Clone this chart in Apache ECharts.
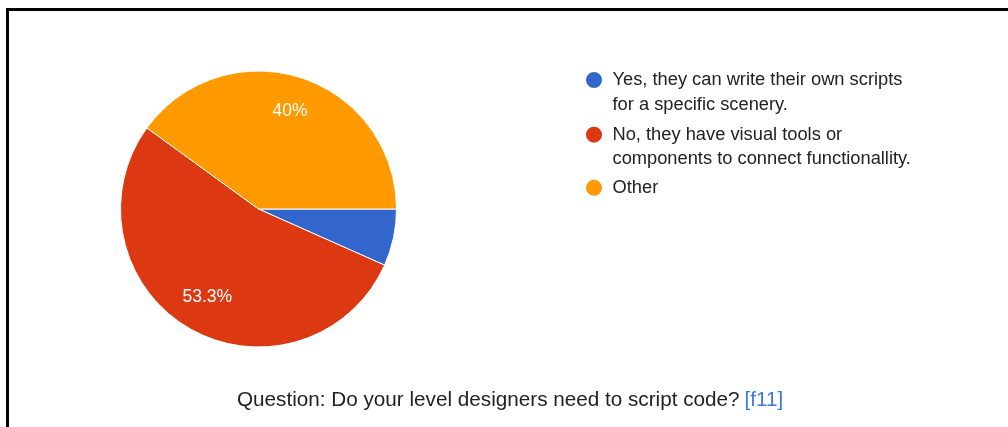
<!DOCTYPE html>
<html>
<head>
<meta charset="utf-8">
<script src="https://cdn.jsdelivr.net/npm/echarts@6/dist/echarts.min.js"></script>
<style>
html,body{margin:0;padding:0;background:#fff;}
#wrap{position:relative;width:1008px;height:427px;overflow:hidden;}
#chart{position:absolute;left:0;top:0;width:1008px;height:427px;}
#frame{position:absolute;left:6px;top:8px;width:1010px;height:430px;border-top:3px solid #000;border-left:3px solid #000;pointer-events:none;}
</style>
</head>
<body>
<div id="wrap"><div id="chart"></div><div id="frame"></div></div>
<script>
const categories = [
  "Yes, they can write their own scripts\nfor a specific scenery.",
  "No, they have visual tools or\ncomponents to connect functionallity.",
  "Other"
];
const counts = [1, 8, 6];
const colors = ["#3366cc", "#dc3912", "#ff9900"];
const questionText = "Question: Do your level designers need to script code?";
const questionTag = "[f11]";

const data = categories.map((c, i) => ({ name: c, value: counts[i], itemStyle: { color: colors[i] } }));
const total = counts.reduce((a, b) => a + b, 0);

const center = [258.5, 209];
const R = 138;
const font = "'Liberation Sans', Arial, sans-serif";
const LH = 24.5;

function legendFor(i, iconCenterY) {
  const twoLine = categories[i].indexOf("\n") >= 0;
  const blockH = twoLine ? LH * 3 : LH;
  return {
    data: [categories[i]],
    left: 584,
    top: iconCenterY - blockH / 2,
    orient: 'vertical',
    icon: 'circle',
    itemWidth: 27,
    itemHeight: 18,
    padding: 0,
    selectedMode: false,
    formatter: function (name) { return twoLine ? '\n' + name : name; },
    textStyle: {
      fontFamily: font,
      fontSize: 18.3,
      color: '#222',
      lineHeight: LH
    }
  };
}

const chart = echarts.init(document.getElementById('chart'), null, { renderer: 'canvas' });
chart.setOption({
  animation: false,
  backgroundColor: '#fff',
  title: {
    left: 237,
    top: 390,
    padding: 0,
    text: '{q|' + questionText + '} {t|' + questionTag + '}',
    textStyle: {
      fontWeight: 'normal',
      rich: {
        q: { fontFamily: font, fontSize: 20.7, fontWeight: 'normal', color: '#222' },
        t: { fontFamily: font, fontSize: 20.7, fontWeight: 'normal', color: '#3b78e7' }
      }
    }
  },
  legend: [legendFor(0, 80), legendFor(1, 134.7), legendFor(2, 187.8)],
  series: [
    {
      type: 'pie',
      center: center,
      radius: [0, R],
      startAngle: 0,
      clockwise: true,
      avoidLabelOverlap: false,
      label: { show: false },
      labelLine: { show: false },
      itemStyle: { borderColor: '#fff', borderWidth: 1 },
      emphasis: { disabled: true },
      data: data
    },
    {
      type: 'pie',
      center: center,
      radius: [R * 0.44, R],
      startAngle: 0,
      clockwise: true,
      silent: true,
      avoidLabelOverlap: false,
      itemStyle: { color: 'rgba(0,0,0,0)', borderWidth: 0 },
      labelLine: { show: false },
      label: {
        show: true,
        position: 'inside',
        fontFamily: font,
        fontSize: 17.5,
        color: '#fff',
        formatter: function (p) {
          const pct = p.value / total * 100;
          if (pct < 10) return '';
          const r = Math.round(pct * 10) / 10;
          return (r % 1 === 0 ? r.toFixed(0) : r.toFixed(1)) + '%';
        }
      },
      data: categories.map((c, i) => ({ name: c, value: counts[i] }))
    }
  ]
});
</script>
</body>
</html>
